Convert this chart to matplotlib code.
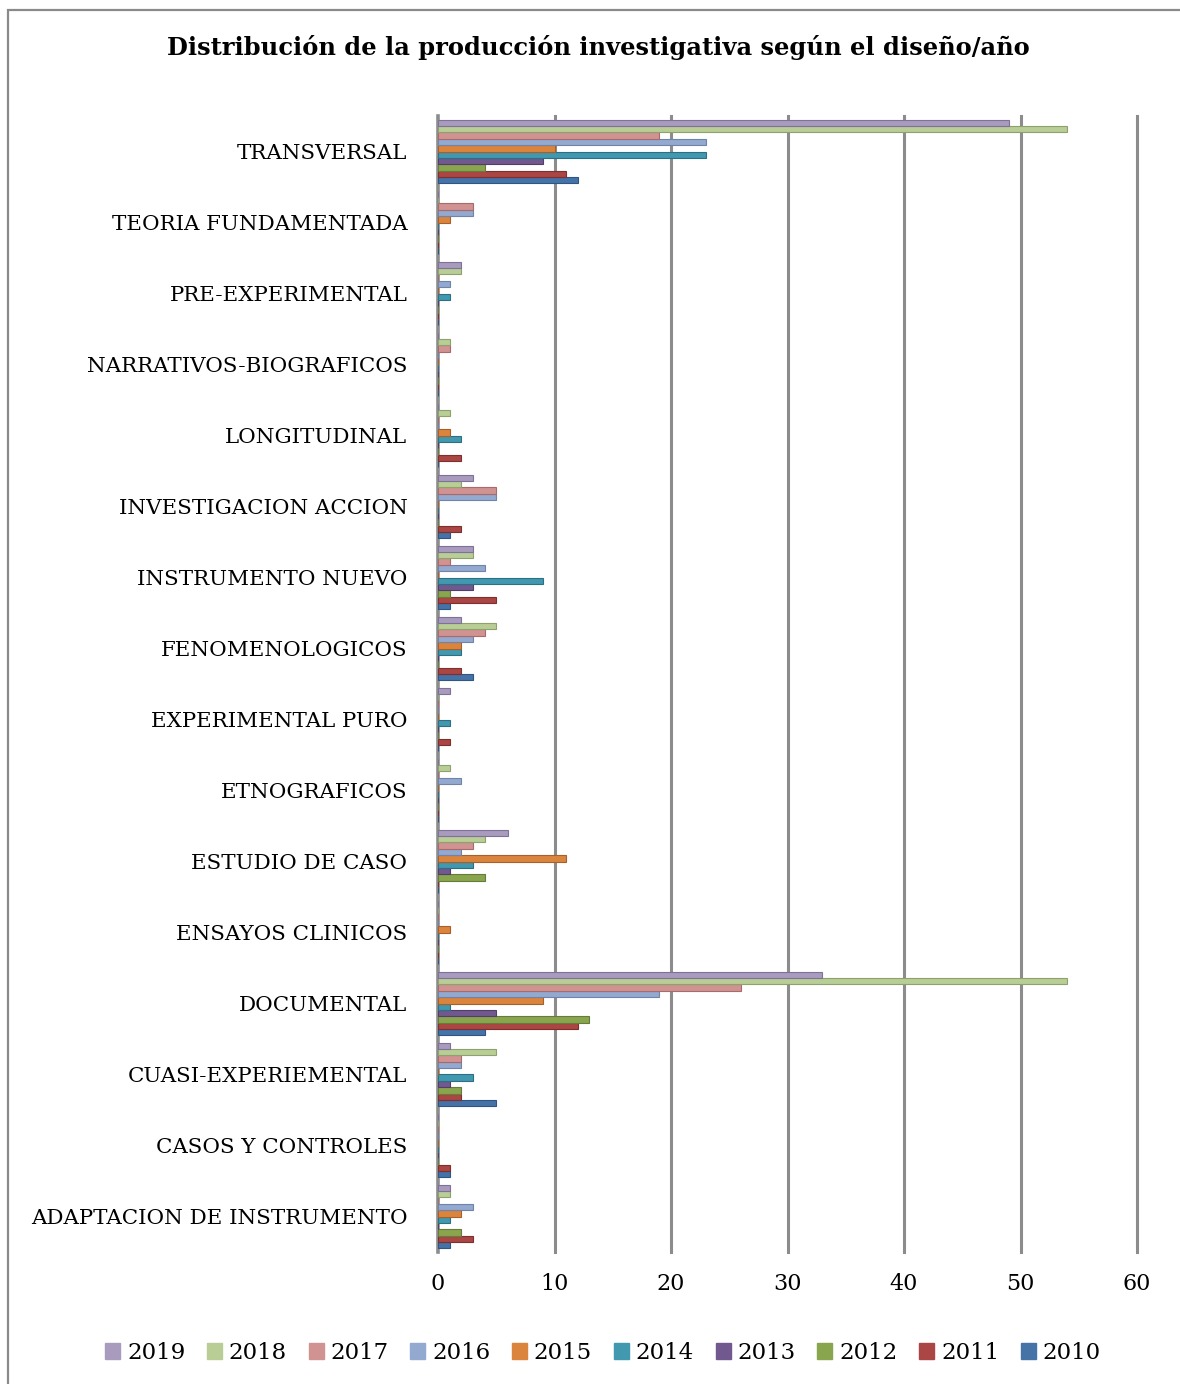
import matplotlib
matplotlib.use("Agg")
import matplotlib.pyplot as plt
from matplotlib.patches import Rectangle, Patch
import numpy as np

# categories, bottom -> top
categories = ["ADAPTACION DE INSTRUMENTO", "CASOS Y CONTROLES", "CUASI-EXPERIEMENTAL",
              "DOCUMENTAL", "ENSAYOS CLINICOS", "ESTUDIO DE CASO", "ETNOGRAFICOS",
              "EXPERIMENTAL PURO", "FENOMENOLOGICOS", "INSTRUMENTO NUEVO",
              "INVESTIGACION ACCION", "LONGITUDINAL", "NARRATIVOS-BIOGRAFICOS",
              "PRE-EXPERIMENTAL", "TEORIA FUNDAMENTADA", "TRANSVERSAL"]

years = ["2010", "2011", "2012", "2013", "2014", "2015", "2016", "2017", "2018", "2019"]

# values per year, in category order (bottom -> top)
v2010 = [1, 1, 5, 4, 0, 0, 0, 0, 3, 1, 1, 0, 0, 0, 0, 12]
v2011 = [3, 1, 2, 12, 0, 0, 0, 1, 2, 5, 2, 2, 0, 0, 0, 11]
v2012 = [2, 0, 2, 13, 0, 4, 0, 0, 0, 1, 0, 0, 0, 0, 0, 4]
v2013 = [0, 0, 1, 5, 0, 1, 0, 0, 0, 3, 0, 0, 0, 0, 0, 9]
v2014 = [1, 0, 3, 1, 0, 3, 0, 1, 2, 9, 0, 2, 0, 1, 0, 23]
v2015 = [2, 0, 0, 9, 1, 11, 0, 0, 2, 0, 0, 1, 0, 0, 1, 10]
v2016 = [3, 0, 2, 19, 0, 2, 2, 0, 3, 4, 5, 0, 0, 1, 3, 23]
v2017 = [0, 0, 2, 26, 0, 3, 0, 0, 4, 1, 5, 0, 1, 0, 3, 19]
v2018 = [1, 0, 5, 54, 0, 4, 1, 0, 5, 3, 2, 1, 1, 2, 0, 54]
v2019 = [1, 0, 1, 33, 0, 6, 0, 1, 2, 3, 3, 0, 0, 2, 0, 49]

series = [v2010, v2011, v2012, v2013, v2014, v2015, v2016, v2017, v2018, v2019]
colors = ["#4572A7", "#AA4643", "#89A54E", "#71588F", "#4198AF",
          "#DB843D", "#93A9CF", "#D19392", "#B9CD96", "#A99BBD"]
edges = ["#2f5583", "#7f2f2d", "#667c38", "#513f69", "#2c7083",
         "#a8602a", "#6f84a8", "#a86b6a", "#8da26d", "#7f7298"]

plt.rcParams['font.family'] = ["DejaVu Serif"]

fig = plt.figure(figsize=(11.8, 13.84), dpi=100)
W, H = 1180, 1384
ax = fig.add_axes([438 / W, 1 - 1252 / H, (1137 - 438) / W, (1252 - 116) / H])

# outer frame
fig.add_artist(Rectangle((8 / W, -0.02), 1.05, 1 - 10 / H + 0.02, transform=fig.transFigure,
                         fill=False, edgecolor="#8a8a8a", lw=1.6))

y = np.arange(len(categories))
h = 0.09
for j, vals in enumerate(series):
    off = (j - 4.5) * h
    ax.barh(y + off, vals, height=h, color=colors[j], edgecolor=edges[j],
            linewidth=0.8, zorder=3)

ax.set_xlim(0, 60)
ax.set_ylim(-0.5, len(categories) - 0.5)
ax.set_yticks(y)
ax.set_yticklabels(categories, fontsize=15.4)
ax.set_xticks(np.arange(0, 61, 10))
ax.tick_params(axis='both', length=0)
ax.tick_params(axis='y', pad=22)
ax.tick_params(axis='x', pad=15, labelsize=16)
for s in ax.spines.values():
    s.set_visible(False)
for xv in range(10, 61, 10):
    ax.axvline(xv, color="#8c8c8c", lw=2.2, zorder=1, clip_on=False)
ax.axvline(0, color="#8c8c8c", lw=2.6, zorder=1, clip_on=False)

fig.text(598 / W, 1 - 48 / H, "Distribución de la producción investigativa según el diseño/año",
         ha="center", va="center", fontsize=17.4, fontweight="bold")

handles = [Patch(facecolor=colors[j], edgecolor=colors[j]) for j in range(9, -1, -1)]
labels = [years[j] for j in range(9, -1, -1)]
fig.legend(handles, labels, loc="center", bbox_to_anchor=(603 / W, 1 - 1353 / H), ncol=10,
           frameon=False, fontsize=16.5, handlelength=0.65, handleheight=0.65,
           handletextpad=0.3, columnspacing=0.95)

fig.savefig("out.png", dpi=100)
